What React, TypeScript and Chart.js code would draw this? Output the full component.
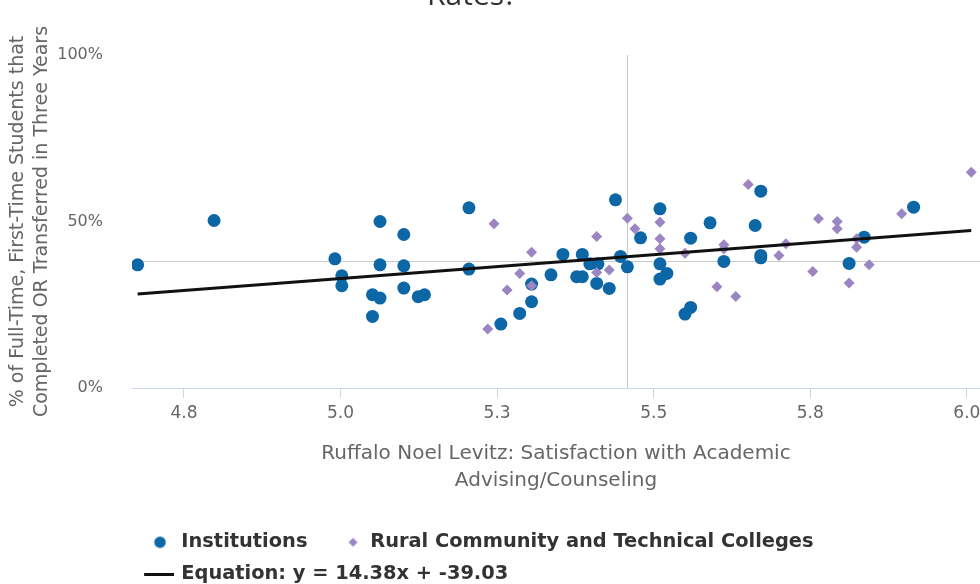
import React, { useEffect, useRef } from "react";
import { Chart, registerables } from "chart.js";

Chart.register(...registerables);

// ---------- data ----------
const TITLE = "Rates?";
const X_TITLE = ["Ruffalo Noel Levitz: Satisfaction with Academic", "Advising/Counseling"];
const Y_TITLE = ["% of Full-Time, First-Time Students that", "Completed OR Transferred in Three Years"];

const X_MIN = 4.667;
const X_MAX = 6.021;
const X_TICKS = [4.75, 5.0, 5.25, 5.5, 5.75, 6.0];
const X_TICK_LABELS = ["4.8", "5.0", "5.3", "5.5", "5.8", "6.0"];
const Y_TICKS = [0, 50, 100];
const Y_TICK_LABELS = ["0%", "50%", "100%"];

const SERIES_NAMES = ["Institutions", "Rural Community and Technical Colleges", "Equation: y = 14.38x + -39.03"];

const INST_X = [
  4.676, 4.798, 5.063, 4.991, 5.063, 5.002, 5.002, 5.051, 5.063, 5.051,
  5.101, 5.101, 5.101, 5.124, 5.134, 5.205, 5.205, 5.305, 5.305, 5.286,
  5.256, 5.336, 5.355, 5.386, 5.377, 5.386, 5.398, 5.411, 5.409, 5.429,
  5.439, 5.447, 5.458, 5.479, 5.510, 5.510, 5.521, 5.510, 5.559, 5.550,
  5.559, 5.590, 5.612, 5.671, 5.662, 5.671, 5.671, 5.812, 5.836, 5.915,
];
const INST_Y = [
  37.0, 50.3, 50.0, 38.8, 37.0, 33.7, 30.7, 28.0, 27.0, 21.5,
  46.1, 36.7, 30.0, 27.4, 28.0, 54.1, 35.7, 31.2, 25.9, 22.4,
  19.2, 34.0, 40.1, 40.1, 33.4, 33.4, 37.3, 37.3, 31.4, 29.9,
  56.5, 39.5, 36.4, 45.1, 53.8, 37.3, 34.4, 32.7, 45.0, 22.2,
  24.2, 49.6, 38.0, 59.1, 48.8, 39.8, 39.1, 37.4, 45.3, 54.3,
];

const RURAL_X = [
  5.245, 5.305, 5.286, 5.305, 5.266, 5.235, 5.409, 5.409, 5.429, 5.458,
  5.470, 5.510, 5.510, 5.510, 5.550, 5.601, 5.612, 5.612, 5.631, 5.651,
  5.700, 5.711, 5.754, 5.763, 5.793, 5.793, 5.812, 5.824, 5.824, 5.844,
  5.896, 6.007,
];
const RURAL_Y = [
  49.3, 40.8, 34.4, 30.7, 29.4, 17.7, 45.5, 34.7, 35.4, 51.0,
  47.8, 49.8, 44.8, 41.8, 40.5, 30.4, 43.0, 41.8, 27.5, 61.1,
  39.8, 43.3, 35.0, 50.8, 50.0, 47.8, 31.5, 44.8, 42.3, 37.0,
  52.3, 64.8,
];

const TREND_X = [4.676, 6.007];
const TREND_Y = [28.2, 47.3];

const MEAN_X = 5.457;
const MEAN_Y = 38.0;

// ---------- styles ----------
const BLUE = "#0d67a6";
const PURPLE = "#9b85c2";
const LINE_COLOR = "#111111";
const AXIS_COLOR = "#ccd6eb";
const PLOTLINE_COLOR = "#c9c9c9";
const SANS = "'Open Sans', sans-serif";
const WIDE = "'DejaVu Sans', sans-serif";

const CANVAS_W = 1016;
const CANVAS_H = 634;
const OFFSET_X = -36;
const OFFSET_Y = -40;

function makeIcon(kind: string): HTMLCanvasElement {
  const c = document.createElement("canvas");
  const ctx = c.getContext("2d")!;
  if (kind === "line") {
    c.width = 32;
    c.height = 3;
    ctx.fillStyle = LINE_COLOR;
    ctx.fillRect(2, 0, 30, 3);
  } else if (kind === "circle") {
    c.width = 27;
    c.height = 14;
    ctx.fillStyle = BLUE;
    ctx.beginPath();
    ctx.arc(15.4, 7, 5.8, 0, Math.PI * 2);
    ctx.fill();
  } else {
    c.width = 27;
    c.height = 14;
    ctx.fillStyle = PURPLE;
    ctx.beginPath();
    ctx.moveTo(19.5, 2.5);
    ctx.lineTo(24, 7);
    ctx.lineTo(19.5, 11.5);
    ctx.lineTo(15, 7);
    ctx.closePath();
    ctx.fill();
  }
  return c;
}

const meanLinesPlugin = {
  id: "meanLines",
  beforeDatasetsDraw(chart: any) {
    const { ctx, chartArea, scales } = chart;
    const px = Math.round(scales.x.getPixelForValue(MEAN_X)) + 0.5;
    const py = Math.round(scales.y.getPixelForValue(MEAN_Y)) + 0.5;
    ctx.save();
    ctx.strokeStyle = PLOTLINE_COLOR;
    ctx.lineWidth = 1;
    ctx.beginPath();
    ctx.moveTo(px, chartArea.top);
    ctx.lineTo(px, chartArea.bottom);
    ctx.moveTo(chartArea.left, py);
    ctx.lineTo(chartArea.right, py);
    ctx.stroke();
    ctx.restore();
  },
};

export default function App() {
  const ref = useRef<HTMLCanvasElement | null>(null);

  useEffect(() => {
    if (!ref.current) return;
    const icons = [makeIcon("circle"), makeIcon("diamond"), makeIcon("line")];
    const legendTexts = [SERIES_NAMES[0] + "  ", SERIES_NAMES[1], SERIES_NAMES[2]];

    const chart = new Chart(ref.current, {
      type: "scatter",
      data: {
        datasets: [
          {
            label: SERIES_NAMES[0],
            data: INST_X.map((x, i) => ({ x, y: INST_Y[i] })),
            backgroundColor: BLUE,
            borderWidth: 0,
            pointStyle: "circle",
            pointRadius: 6.5,
            order: 2,
          },
          {
            label: SERIES_NAMES[1],
            data: RURAL_X.map((x, i) => ({ x, y: RURAL_Y[i] })),
            backgroundColor: PURPLE,
            borderWidth: 0,
            pointStyle: "rectRot",
            pointRadius: 5.5,
            order: 1,
          },
          {
            type: "line",
            label: SERIES_NAMES[2],
            data: TREND_X.map((x, i) => ({ x, y: TREND_Y[i] })),
            borderColor: LINE_COLOR,
            backgroundColor: LINE_COLOR,
            borderWidth: 3,
            pointRadius: 0,
            showLine: true,
            fill: false,
            order: 0,
          } as any,
        ],
      },
      options: {
        animation: false,
        responsive: false,
        devicePixelRatio: 1,
        layout: { padding: 0, autoPadding: false },
        plugins: {
          title: {
            display: true,
            text: TITLE,
            color: "#333333",
            font: { family: SANS, size: 30, weight: "normal", lineHeight: 1.2 },
            padding: { top: 18, bottom: 41 },
          },
          legend: {
            position: "bottom",
            align: "start",
            fullSize: false,
            labels: {
              usePointStyle: true,
              pointStyleWidth: 27,
              boxHeight: 19.4,
              padding: 12.6,
              color: "#333333",
              font: { family: WIDE, size: 19.4, weight: "bold" },
              generateLabels: (c: any) => {
                const items = (Chart.defaults.plugins.legend.labels as any).generateLabels(c);
                items.sort((a: any, b: any) => a.datasetIndex - b.datasetIndex);
                return items.map((it: any) => ({
                  ...it,
                  text: legendTexts[it.datasetIndex],
                  pointStyle: icons[it.datasetIndex],
                  fontColor: "#333333",
                }));
              },
            },
          } as any,
          tooltip: { enabled: false },
        },
        scales: {
          x: {
            type: "linear",
            min: X_MIN,
            max: X_MAX,
            afterBuildTicks: (s: any) => {
              s.ticks = X_TICKS.map((v) => ({ value: v }));
            },
            afterFit: (s: any) => {
              s.height = 132;
              s.paddingLeft = 0;
              s.paddingRight = 0;
            },
            ticks: {
              autoSkip: false,
              maxRotation: 0,
              color: "#666666",
              padding: 5,
              font: { family: WIDE, size: 17 },
              callback: (_v: any, i: number) => X_TICK_LABELS[i],
            },
            grid: {
              display: true,
              drawOnChartArea: false,
              drawTicks: true,
              tickLength: 10,
              color: AXIS_COLOR,
            },
            border: { display: true, color: AXIS_COLOR, width: 1 },
            title: {
              display: true,
              text: X_TITLE,
              color: "#666666",
              font: { family: WIDE, size: 20, lineHeight: 1.35 },
              padding: { top: 0, bottom: 25.5 },
            },
          },
          y: {
            type: "linear",
            min: 0,
            max: 100,
            afterBuildTicks: (s: any) => {
              s.ticks = Y_TICKS.map((v) => ({ value: v }));
            },
            afterFit: (s: any) => {
              s.width = 168;
            },
            ticks: {
              color: "#666666",
              padding: 29,
              font: { family: WIDE, size: 16 },
              callback: (_v: any, i: number) => Y_TICK_LABELS[i],
            },
            grid: { display: false, drawTicks: false },
            border: { display: false },
            title: {
              display: true,
              text: Y_TITLE,
              color: "#666666",
              font: { family: WIDE, size: 19, lineHeight: 1.26 },
              padding: { top: 42, bottom: 0 },
            },
          },
        },
      } as any,
      plugins: [meanLinesPlugin],
    });
    return () => chart.destroy();
  }, []);

  return (
    <div
      style={{
        position: "fixed",
        left: 0,
        top: 0,
        width: 980,
        height: 584,
        overflow: "hidden",
        background: "#ffffff",
      }}
    >
      <canvas
        ref={ref}
        width={CANVAS_W}
        height={CANVAS_H}
        style={{ position: "absolute", left: OFFSET_X, top: OFFSET_Y, width: CANVAS_W, height: CANVAS_H }}
      />
    </div>
  );
}
